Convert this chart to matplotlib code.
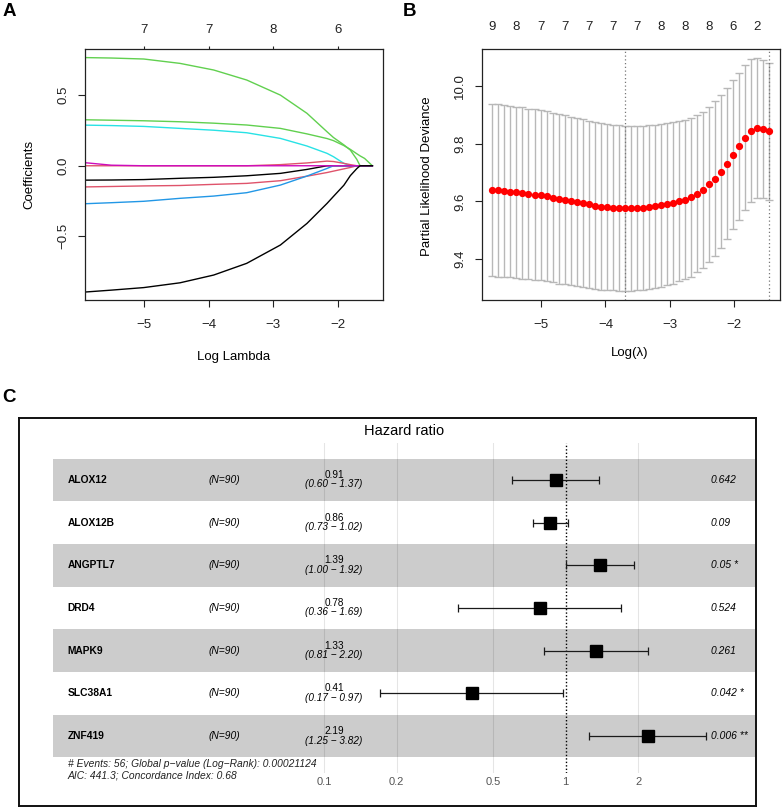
import numpy as np
import matplotlib.pyplot as plt
from matplotlib.transforms import blended_transform_factory

plt.rcParams['font.family'] = ['Liberation Sans', 'DejaVu Sans']

W, H = 782, 809

# ---- A: lasso coefficient paths ----
loglam_path = [-5.89, -5.5, -5.0, -4.44, -3.92, -3.41, -2.89, -2.48, -2.17,
               -2.07, -1.91, -1.81, -1.71, -1.66, -1.59, -1.47]
coef_green1 = [0.767, 0.764, 0.757, 0.726, 0.679, 0.608, 0.501, 0.372, 0.241,
               0.200, 0.148, 0.111, 0.045, 0, 0, 0]
coef_green2 = [0.326, 0.323, 0.319, 0.312, 0.302, 0.289, 0.265, 0.226, 0.193,
               0.178, 0.143, 0.116, 0.085, 0.070, 0.052, 0]
coef_cyan = [0.288, 0.285, 0.279, 0.265, 0.252, 0.234, 0.194, 0.140, 0.088,
             0.064, 0.017, 0, 0, 0, 0, 0]
coef_magenta = [0.021, 0.004, 0, 0, 0, 0, 0, 0, 0, 0, 0, 0, 0, 0, 0, 0]
coef_pink1 = [0, 0, 0, 0, 0, 0, 0.008, 0.020, 0.033, 0.030, 0.017, 0.008, 0, 0, 0, 0]
coef_black1 = [-0.102, -0.101, -0.098, -0.089, -0.082, -0.071, -0.054, -0.026, 0,
               0, 0, 0, 0, 0, 0, 0]
coef_pink2 = [-0.150, -0.147, -0.143, -0.140, -0.132, -0.125, -0.106, -0.074, -0.048,
              -0.038, -0.022, -0.012, 0, 0, 0, 0]
coef_blue = [-0.269, -0.262, -0.252, -0.231, -0.215, -0.191, -0.137, -0.073, -0.019,
             0, 0, 0, 0, 0, 0, 0]
coef_black2 = [-0.895, -0.882, -0.864, -0.830, -0.775, -0.692, -0.562, -0.409, -0.267,
               -0.217, -0.138, -0.070, -0.020, 0, 0, 0]
df_ticks_a = [-5, -4, -3, -2]
df_labels_a = ['7', '7', '8', '6']

# ---- B: cross-validation curve ----
loglam_cv = [-5.756, -5.663, -5.569, -5.476, -5.382, -5.289, -5.196, -5.102, -5.009, -4.915,
             -4.822, -4.729, -4.635, -4.542, -4.449, -4.355, -4.262, -4.168, -4.075, -3.982,
             -3.888, -3.795, -3.701, -3.608, -3.515, -3.421, -3.328, -3.234, -3.141, -3.048,
             -2.954, -2.861, -2.768, -2.674, -2.581, -2.487, -2.394, -2.301, -2.207, -2.114,
             -2.020, -1.927, -1.834, -1.740, -1.647, -1.553, -1.460]
cvm = [9.639, 9.638, 9.636, 9.634, 9.631, 9.629, 9.625, 9.623, 9.621, 9.617,
       9.613, 9.609, 9.606, 9.601, 9.598, 9.594, 9.590, 9.585, 9.582, 9.579,
       9.578, 9.577, 9.576, 9.576, 9.577, 9.578, 9.580, 9.583, 9.586, 9.590,
       9.594, 9.600, 9.606, 9.614, 9.627, 9.640, 9.659, 9.679, 9.703, 9.731,
       9.761, 9.791, 9.820, 9.845, 9.854, 9.851, 9.842]
cvsd = [0.298, 0.298, 0.297, 0.297, 0.296, 0.296, 0.295, 0.295, 0.294, 0.294,
        0.293, 0.293, 0.292, 0.291, 0.291, 0.290, 0.289, 0.288, 0.288, 0.287,
        0.286, 0.286, 0.285, 0.285, 0.284, 0.284, 0.283, 0.282, 0.281, 0.280,
        0.279, 0.277, 0.275, 0.274, 0.271, 0.270, 0.268, 0.268, 0.264, 0.262,
        0.258, 0.254, 0.250, 0.246, 0.241, 0.238, 0.237]
nz_labels_b = ['9', '8', '7', '7', '7', '7', '7', '8', '8', '8', '6', '2']
lambda_min_log = -3.701
lambda_1se_log = -1.460

# ---- C: multivariate Cox forest plot ----
genes = ['ALOX12', 'ALOX12B', 'ANGPTL7', 'DRD4', 'MAPK9', 'SLC38A1', 'ZNF419']
n_obs = [90, 90, 90, 90, 90, 90, 90]
hr = [0.91, 0.86, 1.39, 0.78, 1.33, 0.41, 2.19]
hr_lo = [0.60, 0.73, 1.00, 0.36, 0.81, 0.17, 1.25]
hr_hi = [1.37, 1.02, 1.92, 1.69, 2.20, 0.97, 3.82]
pvals = ['0.642', '0.09', '0.05 *', '0.524', '0.261', '0.042 *', '0.006 **']
hr_ticks = [0.1, 0.2, 0.5, 1, 2]
footnote1 = '# Events: 56; Global p\u2212value (Log\u2212Rank): 0.00021124'
footnote2 = 'AIC: 441.3; Concordance Index: 0.68'


def px_rect(l, t, r, b):
    return [l / W, 1 - b / H, (r - l) / W, (b - t) / H]


def r_style(ax):
    for s in ax.spines.values():
        s.set_linewidth(0.9)
        s.set_color('#222222')
    ax.tick_params(direction='out', length=5, width=0.8, labelsize=9.5,
                   colors='#222222')
    ax.tick_params(axis='x', pad=8.5)
    ax.tick_params(axis='y', pad=6.3, labelrotation=90)
    for lbl in ax.get_yticklabels():
        lbl.set_va('center')


fig = plt.figure(figsize=(W / 100, H / 100), dpi=100)

# panel A
ax_a = fig.add_axes(px_rect(85, 49, 383, 300))
paths = [(coef_green1, '#61D04F'), (coef_green2, '#61D04F'), (coef_cyan, '#28E2E5'),
         (coef_pink1, '#DF536B'), (coef_black1, 'black'), (coef_pink2, '#DF536B'),
         (coef_blue, '#2297E6'), (coef_magenta, '#CD0BBC'), (coef_black2, 'black')]
for vals, col in paths:
    ax_a.plot(loglam_path, vals, color=col, lw=1.0)
ax_a.set_xlim(-5.907, -1.306)
ax_a.set_ylim(-0.952, 0.828)
ax_a.set_xticks([-5, -4, -3, -2])
ax_a.set_yticks([-0.5, 0.0, 0.5], labels=['\u22120.5', '0.0', '0.5'])
r_style(ax_a)
ax_a.set_xlabel('Log Lambda', fontsize=9.5, va='center')
ax_a.xaxis.set_label_coords(0.5, -0.226)
ax_a.set_ylabel('Coefficients', fontsize=9.5, va='center')
ax_a.yaxis.set_label_coords(-0.188, 0.502)
top_a = ax_a.secondary_xaxis('top')
top_a.set_xticks(df_ticks_a, labels=df_labels_a)
top_a.tick_params(length=2.5, width=0.8, labelsize=9.5, pad=7, colors='#222222')
top_a.spines['top'].set_visible(False)

# panel B
ax_b = fig.add_axes(px_rect(481.7, 49, 779.5, 300))
cvm_arr = np.array(cvm)
sd_arr = np.array(cvsd)
ax_b.errorbar(loglam_cv, cvm_arr, yerr=sd_arr, fmt='none', ecolor='#b8b8b8',
              elinewidth=1.0, capsize=2.6, capthick=1.0, zorder=1)
ax_b.plot(loglam_cv, cvm_arr, 'o', color='red', ms=4.2, mec='red', zorder=3)
for v in (lambda_min_log, lambda_1se_log):
    ax_b.axvline(v, color='#777777', lw=0.9, ls=(0, (1, 2)), zorder=2)
ax_b.set_xlim(-5.922, -1.298)
ax_b.set_ylim(9.259, 10.127)
ax_b.set_xticks([-5, -4, -3, -2])
ax_b.set_yticks([9.4, 9.6, 9.8, 10.0], labels=['9.4', '9.6', '9.8', '10.0'])
r_style(ax_b)
ax_b.set_xlabel('Log(\u03bb)', fontsize=9.5, va='center')
ax_b.xaxis.set_label_coords(0.498, -0.21)
ax_b.set_ylabel('Partial Likelihood Deviance', fontsize=9.5, va='center')
ax_b.yaxis.set_label_coords(-0.185, 0.495)
top_b = ax_b.secondary_xaxis('top')
top_b.set_xticks(loglam_cv[::4], labels=nz_labels_b)
top_b.tick_params(length=0, labelsize=9.5, pad=11.5, colors='#222222')
top_b.spines['top'].set_visible(False)

# panel C
ax_box = fig.add_axes(px_rect(19, 418.3, 755.7, 806))
ax_box.set_xticks([])
ax_box.set_yticks([])
for s in ax_box.spines.values():
    s.set_linewidth(1.4)
    s.set_color('#111111')

ax_c = fig.add_axes(px_rect(53.3, 443.3, 754.5, 773.3))
ax_c.patch.set_alpha(0)
for s in ax_c.spines.values():
    s.set_visible(False)
ax_c.set_xscale('log')
px_per_dec = 241.7
x_one = 565.7
ax_c.set_xlim(10 ** ((53.3 - x_one) / px_per_dec), 10 ** ((754.5 - x_one) / px_per_dec))
row_h = 42.67
ax_c.set_ylim((773.3 - 480) / row_h, (443.3 - 480) / row_h)

rows = np.arange(len(genes))
for i in rows[::2]:
    ax_c.axhspan(i - 0.5, i + 0.5, color='#cccccc', lw=0, zorder=0)
for t in hr_ticks:
    if t == 1:
        ax_c.axvline(t, color='black', lw=1.0, ls=(0, (1, 1.5)), zorder=2)
    else:
        ax_c.axvline(t, color='black', alpha=0.1, lw=0.8, zorder=1)

hr_arr = np.array(hr)
xerr = [hr_arr - np.array(hr_lo), np.array(hr_hi) - hr_arr]
ax_c.errorbar(hr_arr, rows, xerr=xerr, fmt='none', ecolor='#1a1a1a',
              elinewidth=0.9, capsize=3.2, capthick=0.9, zorder=3)
ax_c.plot(hr_arr, rows, 's', color='black', ms=8.6, zorder=4)

ax_c.set_xticks(hr_ticks, labels=['0.1', '0.2', '0.5', '1', '2'])
ax_c.minorticks_off()
ax_c.set_yticks([])
ax_c.tick_params(axis='x', length=0, pad=3, labelsize=8, labelcolor='#555555')

tr = blended_transform_factory(fig.transFigure, ax_c.transData)
for i, g in enumerate(genes):
    ax_c.text(67.7 / W, i, g, transform=tr, ha='left', va='center',
              fontsize=7.4, fontweight='bold')
    ax_c.text(224 / W, i, '(N=%d)' % n_obs[i], transform=tr, ha='center',
              va='center', fontsize=7.4, style='italic')
    ax_c.text(334.3 / W, i - 0.115, '%.2f' % hr[i], transform=tr, ha='center',
              va='center', fontsize=7.2)
    ax_c.text(333.3 / W, i + 0.105, '(%.2f \u2212 %.2f)' % (hr_lo[i], hr_hi[i]),
              transform=tr, ha='center', va='center', fontsize=7.2, style='italic')
    ax_c.text(711 / W, i, pvals[i], transform=tr, ha='left', va='center',
              fontsize=7.4, style='italic')

fig.text(404 / W, 1 - 430.7 / H, 'Hazard ratio', ha='center', va='center', fontsize=10.5)
fig.text(67.7 / W, 1 - 764 / H, footnote1, ha='left', va='center', fontsize=7.4,
         style='italic', color='#222222')
fig.text(67.7 / W, 1 - 776 / H, footnote2, ha='left', va='center', fontsize=7.4,
         style='italic', color='#222222')

# panel letters
for lx, ly, letter in [(9, 12, 'A'), (410, 12, 'B'), (9, 397, 'C')]:
    fig.text(lx / W, 1 - ly / H, letter, ha='center', va='center',
             fontsize=13.5, fontweight='bold')

fig.savefig('out.png', dpi=100)
